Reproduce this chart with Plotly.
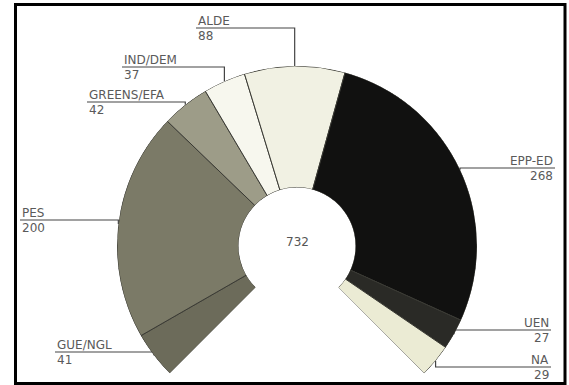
import math
import plotly.graph_objects as go

# ---- data ----
parties = ["GUE/NGL", "PES", "GREENS/EFA", "IND/DEM", "ALDE", "EPP-ED", "UEN", "NA"]
seats = [41, 200, 42, 37, 88, 268, 27, 29]
colors = ["#6c6b5a", "#7b7a67", "#9d9c88", "#f7f7ee", "#f1f1e3", "#111110", "#2a2a26", "#ebebd4"]

# ---- layout constants (pixels in a 569x385 canvas) ----
W, H = 569, 385
CX, CY, R = 297, 246, 180          # centre and outer radius of the arc
HOLE = 0.325
SPAN = 270.0                        # angular span of the hemicycle
START = 225.0                       # start angle (math degrees), runs clockwise

label_side = ["L", "L", "L", "L", "L", "R", "R", "R"]
label_line_y = [352, 220, 102, 67, 28, 168, 330, 367]
label_text_x = [55, 20, 87, 122, 196, 555, 551, 551]

total = sum(seats)
widths = [s * SPAN / total for s in seats]
mids = []
acc = 0.0
for w in widths:
    mids.append(acc + w / 2)
    acc += w

fig = go.Figure()

# hemicycle as polar bars
fig.add_trace(go.Barpolar(
    r=[1] * len(seats), theta=mids, width=widths, base=0,
    marker=dict(color=colors, line=dict(color="#3a3a34", width=1)),
    hoverinfo="skip", showlegend=False,
))

# pixel overlay axes for leader lines
for i, (name, val) in enumerate(zip(parties, seats)):
    ang = math.radians(START - mids[i])
    ax_ = CX + R * math.cos(ang)
    ay_ = CY - R * math.sin(ang)
    ly = label_line_y[i]
    tx = label_text_x[i]
    fig.add_trace(go.Scatter(
        x=[ax_, ax_, tx], y=[ay_, ly, ly], mode="lines",
        line=dict(color="#444444", width=1.2), hoverinfo="skip", showlegend=False,
        xaxis="x", yaxis="y",
    ))
    anchor = "left" if label_side[i] == "L" else "right"
    fig.add_annotation(x=tx, y=ly, xref="x", yref="y", text=name, showarrow=False,
                       xanchor=anchor, yanchor="bottom", yshift=-2,
                       font=dict(family="DejaVu Sans", size=12, color="#5a5a5a"))
    fig.add_annotation(x=tx, y=ly, xref="x", yref="y", text=str(val), showarrow=False,
                       xanchor=anchor, yanchor="top", yshift=1,
                       font=dict(family="DejaVu Sans", size=12, color="#5a5a5a"))

# total in the centre
fig.add_annotation(x=CX, y=CY - 4, xref="x", yref="y", text=str(total), showarrow=False,
                   font=dict(family="DejaVu Sans", size=12, color="#555555"))

# frame
fig.add_shape(type="rect", xref="x", yref="y", x0=15.5, y0=4.5, x1=565, y1=383.5,
              line=dict(color="#000000", width=3))

bottom_y = CY + R * math.sin(math.radians(45))
fig.update_layout(
    width=W, height=H, margin=dict(l=0, r=0, t=0, b=0),
    paper_bgcolor="white", plot_bgcolor="rgba(0,0,0,0)",
    xaxis=dict(range=[0, W], visible=False, domain=[0, 1], fixedrange=True),
    yaxis=dict(range=[H, 0], visible=False, domain=[0, 1], fixedrange=True),
    polar=dict(
        domain=dict(x=[(CX - R) / W, (CX + R) / W], y=[1 - bottom_y / H, 1 - (CY - R) / H]),
        sector=[START - SPAN, START], hole=HOLE, bargap=0,
        bgcolor="rgba(0,0,0,0)",
        radialaxis=dict(range=[0, 1], visible=False),
        angularaxis=dict(rotation=START, direction="clockwise", visible=False),
    ),
    showlegend=False,
)

fig.write_html("out.html")
